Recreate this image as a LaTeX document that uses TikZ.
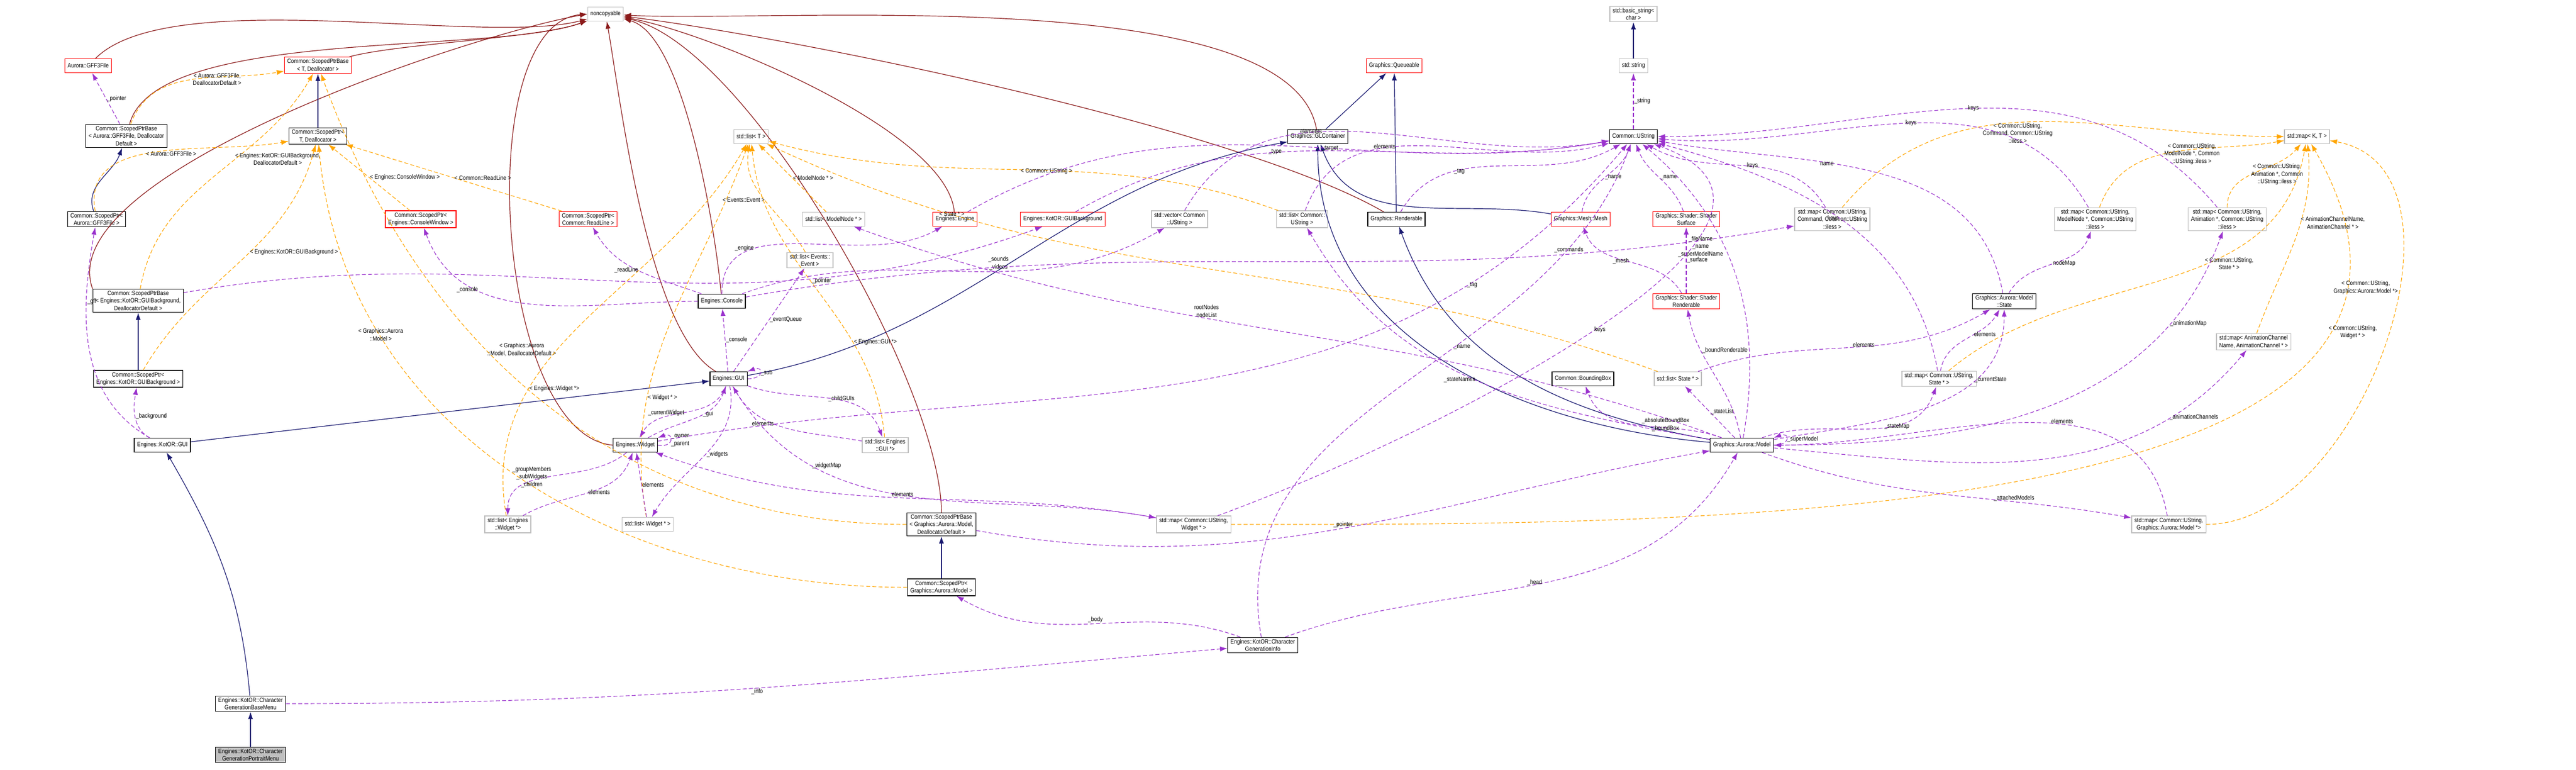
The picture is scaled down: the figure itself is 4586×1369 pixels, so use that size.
\documentclass[tikz,border=0pt]{standalone}
\usepackage{fontspec}
\setmainfont{Liberation Sans}[FakeStretch=0.86]
\usetikzlibrary{arrows.meta, positioning}
\definecolor{inhcol}{HTML}{191970}
\definecolor{usecol}{HTML}{9A32CD}
\definecolor{tplcol}{HTML}{FFA500}
\definecolor{nccol}{HTML}{8B1A1A}
\newcommand{\dgfont}{\fontsize{3.3}{4.05}\selectfont}
\tikzset{
>={Latex[length=3.9pt,width=2.7pt]}, % filled triangle heads
cls/.style={draw=black, fill=white, line width=0.39pt, align=center, font=\dgfont, inner xsep=1.5pt, inner ysep=0.9pt, minimum height=7.5pt},
undoc/.style={cls, draw=red},
ext/.style={cls, draw=black!25},
inh/.style={->, draw=inhcol, line width=0.36pt},
ncy/.style={->, draw=nccol, line width=0.36pt, looseness=0.55},
use/.style={->, draw=usecol, line width=0.33pt, dash pattern=on 2.1pt off 1.2pt},
tpl/.style={->, draw=tplcol, line width=0.33pt, dash pattern=on 2.1pt off 1.2pt},
lbl/.style={font=\dgfont, align=center, inner sep=0.3pt},
}
\begin{document}
\begin{tikzpicture}[x=0.3pt, y=-0.3pt]
  \useasboundingbox (0,0) rectangle (4586,1369);
  % classes
  \node[ext] (nc) at (1078,25) {noncopyable};
  \node[undoc] (gff) at (157,117) {Aurora::GFF3File};
  \node[undoc] (spbt) at (566,116) {Common::ScopedPtrBase\\ < T, Deallocator >};
  \node[cls] (spbgff) at (225,242) {Common::ScopedPtrBase\\ < Aurora::GFF3File, Deallocator\\ Default >};
  \node[cls] (sptd) at (566,242) {Common::ScopedPtr<\\ T, Deallocator >};
  \node[cls] (sptgff) at (172,390) {Common::ScopedPtr<\\ Aurora::GFF3File >};
  \node[undoc] (sptcw) at (749,390) {Common::ScopedPtr<\\ Engines::ConsoleWindow >};
  \node[undoc] (sptrl) at (1047,390) {Common::ScopedPtr<\\ Common::ReadLine >};
  \node[cls] (spbbg) at (246,535) {Common::ScopedPtrBase\\ < Engines::KotOR::GUIBackground,\\ DeallocatorDefault >};
  \node[cls] (sptbg) at (246,674) {Common::ScopedPtr<\\ Engines::KotOR::GUIBackground >};
  \node[cls] (kgui) at (289,792) {Engines::KotOR::GUI};
  \node[cls] (basemenu) at (446,1252) {Engines::KotOR::Character\\ GenerationBaseMenu};
  \node[cls, fill=black!25] (portrait) at (446,1343) {Engines::KotOR::Character\\ GenerationPortraitMenu};
  \node[cls] (widget) at (1131,792) {Engines::Widget};
  \node[ext] (lewid) at (904,933) {std::list< Engines\\ ::Widget *>};
  \node[ext] (lwid) at (1153,933) {std::list< Widget * >};
  \node[ext] (listt) at (1337,243) {std::list< T >};
  \node[ext] (lmn) at (1484,390) {std::list< ModelNode * >};
  \node[undoc] (engine) at (1700,390) {Engines::Engine};
  \node[undoc] (guibg) at (1892,390) {Engines::KotOR::GUIBackground};
  \node[ext] (vecus) at (2100,390) {std::vector< Common\\ ::UString >};
  \node[ext] (levent) at (1442,463) {std::list< Events::\\ Event >};
  \node[cls] (console) at (1285,536) {Engines::Console};
  \node[cls] (gui) at (1297,674) {Engines::GUI};
  \node[ext] (lgui) at (1576,792) {std::list< Engines\\ ::GUI *>};
  \node[cls] (spbmodel) at (1676,933) {Common::ScopedPtrBase\\ < Graphics::Aurora::Model,\\ DeallocatorDefault >};
  \node[cls] (sptmodel) at (1676,1045) {Common::ScopedPtr<\\ Graphics::Aurora::Model >};
  \node[ext] (mapwid) at (2125,933) {std::map< Common::UString,\\ Widget * >};
  \node[cls] (cginfo) at (2248,1148) {Engines::KotOR::Character\\ GenerationInfo};
  \node[ext] (bstr) at (2908,25) {std::basic\_string<\\ char >};
  \node[undoc] (queue) at (2482,117) {Graphics::Queueable};
  \node[ext] (stdstr) at (2908,117) {std::string};
  \node[cls] (glc) at (2346,243) {Graphics::GLContainer};
  \node[cls] (ustr) at (2908,243) {Common::UString};
  \node[ext] (lus) at (2318,390) {std::list< Common::\\ UString >};
  \node[cls] (rend) at (2486,390) {Graphics::Renderable};
  \node[undoc] (mesh) at (2814,390) {Graphics::Mesh::Mesh};
  \node[undoc] (shsurf) at (3002,390) {Graphics::Shader::Shader\\ Surface};
  \node[ext] (mapcmd) at (3262,390) {std::map< Common::UString,\\ Command, Common::UString\\ ::iless >};
  \node[undoc] (shrend) at (3002,536) {Graphics::Shader::Shader\\ Renderable};
  \node[cls] (bbox) at (2818,674) {Common::BoundingBox};
  \node[ext] (lstate) at (2987,674) {std::list< State * >};
  \node[ext] (mapstate) at (3452,674) {std::map< Common::UString,\\ State * >};
  \node[cls] (model) at (3101,792) {Graphics::Aurora::Model};
  \node[ext] (mapkt) at (4107,243) {std::map< K, T >};
  \node[ext] (mapmn) at (3730,390) {std::map< Common::UString,\\ ModelNode *, Common::UString\\ ::iless >};
  \node[ext] (mapanim) at (3965,390) {std::map< Common::UString,\\ Animation *, Common::UString\\ ::iless >};
  \node[cls] (state) at (3568,536) {Graphics::Aurora::Model\\ ::State};
  \node[ext] (mapchan) at (4012,608) {std::map< AnimationChannel\\ Name, AnimationChannel * >};
  \node[ext] (mapmodel) at (3861,933) {std::map< Common::UString,\\ Graphics::Aurora::Model *>};

  % noncopyable
  \draw[ncy] (gff) to[out=45,in=195] (nc);
  \draw[ncy] (spbt) to[out=15,in=200] (nc);
  \draw[ncy] (spbgff) to[out=75,in=200] (nc);
  \draw[ncy] (spbbg.north west) to[out=110,in=190] (nc.west);
  \draw[ncy] (widget.west) to[out=175,in=185,looseness=0.7] (nc.west);
  \draw[ncy] (console) to[out=95,in=-15] (nc);
  \draw[ncy] (gui) to[out=150,in=-80] (nc);
  \draw[ncy] (engine) to[out=95,in=-10] (nc);
  \draw[ncy] (spbmodel) to[out=90,in=-12] (nc);
  \draw[ncy] (glc) to[out=100,in=-3] (nc);
  \draw[ncy] (rend) to[out=150,in=-7] (nc);

  % inheritance
  \draw[inh] (sptd) -- (spbt);
  \draw[inh] (sptgff) to[out=110,in=-110] (spbgff);
  \draw[inh] (sptbg) -- (spbbg);
  \draw[inh] (kgui) -- (gui);
  \draw[inh] (basemenu) to[out=95,in=-60] (kgui);
  \draw[inh] (portrait) -- (basemenu);
  \draw[inh] (sptmodel) -- (spbmodel);
  \draw[inh] (glc) -- (queue);
  \draw[inh] (rend) -- (queue);
  \draw[inh] (gui) to[out=10,in=190] (glc);
  \draw[inh] (mesh) to[out=170,in=-70] (glc);
  \draw[inh] (model) to[out=170,in=-70] (rend);
  \draw[inh] (model) to[out=175,in=-90] (glc);
  \draw[inh] (stdstr) -- (bstr);

  % templates
  \draw[tpl] (spbgff) to[out=70,in=190] node[lbl, pos=0.5, right]{< Aurora::GFF3File,\\ DeallocatorDefault >} (spbt);
  \draw[tpl] (sptgff) to[out=100,in=190] node[lbl, pos=0.45, right]{< Aurora::GFF3File >} (sptd);
  \draw[tpl] (spbbg) to[out=80,in=-120] node[lbl, pos=0.6, right]{< Engines::KotOR::GUIBackground,\\ DeallocatorDefault >} (spbt);
  \draw[tpl] (sptbg) to[out=60,in=-105] node[lbl, pos=0.55, right]{< Engines::KotOR::GUIBackground >} (sptd);
  \draw[tpl] (sptcw) -- node[lbl, right]{< Engines::ConsoleWindow >} (sptd);
  \draw[tpl] (sptrl) -- node[lbl, right]{< Common::ReadLine >} (sptd);
  \draw[tpl] (spbmodel) to[out=180,in=-70] node[lbl, pos=0.6, right]{< Graphics::Aurora\\ ::Model, DeallocatorDefault >} (spbt);
  \draw[tpl] (sptmodel) to[out=180,in=-85] node[lbl, pos=0.75]{< Graphics::Aurora\\ ::Model >} (sptd);
  \draw[tpl] (lewid) to[out=100,in=-120] node[lbl, pos=0.3, right]{< Engines::Widget *>} (listt);
  \draw[tpl] (lwid) to[out=100,in=-110] node[lbl, pos=0.3, right]{< Widget * >} (listt);
  \draw[tpl] (levent) to[out=120,in=-100] node[lbl, pos=0.5, left]{< Events::Event >} (listt);
  \draw[tpl] (lmn) -- node[lbl, right]{< ModelNode * >} (listt);
  \draw[tpl] (lgui) to[out=95,in=-85] node[lbl, pos=0.3, right]{< Engines::GUI *>} (listt);
  \draw[tpl] (lus) to[out=160,in=-15] node[lbl, pos=0.4, left]{< Common::UString >} (listt);
  \draw[tpl] (lstate) to[out=160,in=-25] node[lbl, pos=0.8]{< State * >} (listt);
  \draw[tpl] (mapcmd) to[out=50,in=180] node[lbl, pos=0.45, below]{< Common::UString,\\ Command, Common::UString\\ ::iless >} (mapkt);
  \draw[tpl] (mapmn) to[out=70,in=190] node[lbl, pos=0.45, right]{< Common::UString,\\ ModelNode *, Common\\ ::UString::iless >} (mapkt);
  \draw[tpl] (mapanim) to[out=90,in=-130] node[lbl, pos=0.45, right]{< Common::UString,\\ Animation *, Common\\ ::UString::iless >} (mapkt);
  \draw[tpl] (mapstate) to[out=40,in=-100] node[lbl, pos=0.6, right]{< Common::UString,\\ State * >} (mapkt);
  \draw[tpl] (mapchan) to[out=70,in=-85] node[lbl, pos=0.6, right]{< AnimationChannelName,\\ AnimationChannel * >} (mapkt);
  \draw[tpl] (mapwid) to[out=0,in=-60] node[lbl, pos=0.8, right]{< Common::UString,\\ Widget * >} (mapkt);
  \draw[tpl] (mapmodel) to[out=0,in=-10] node[lbl, pos=0.6, left]{< Common::UString,\\ Graphics::Aurora::Model *>} (mapkt);

  % usage
  \draw[use] (spbgff) -- node[lbl, right]{\_pointer} (gff);
  \draw[use] (kgui) to[out=150,in=-100] node[lbl, pos=0.7, right]{\_gff} (sptgff);
  \draw[use] (kgui) to[out=150,in=-100] node[lbl, right]{\_background} (sptbg);
  \draw[use] (spbbg) to[out=10,in=-160] node[lbl, pos=0.75, below]{\_pointer} (guibg);
  \draw[use] (console) to[out=180,in=-70] node[lbl, pos=0.7, left]{\_console} (sptcw);
  \draw[use] (console) to[out=160,in=-60] node[lbl, pos=0.5, left]{\_readLine} (sptrl);
  \draw[use] (console) to[out=90,in=-150] node[lbl, pos=0.3, left]{\_engine} (engine);
  \draw[use] (console) to[out=20,in=-150] node[lbl, pos=0.6, above]{\_sounds\\ \_videos} (vecus);
  \draw[use] (console) to[out=10,in=-170] node[lbl, pos=0.8, above]{\_commands} (mapcmd);
  \draw[use] (gui) -- node[lbl, right]{\_console} (console);
  \draw[use] (gui) -- node[lbl, right]{\_eventQueue} (levent);
  \draw[use] (gui.east) to[out=0,in=20,looseness=6] node[lbl, right]{\_sub} (gui.north east);
  \draw[use] (gui) to[out=-20,in=110] node[lbl, pos=0.5, right]{\_childGUIs} (lgui);
  \draw[use] (lgui) to[out=170,in=-60] node[lbl, pos=0.6, left]{elements} (gui);
  \draw[use] (gui) to[out=-110,in=60] node[lbl, pos=0.5, left]{\_currentWidget} (widget);
  \draw[use] (widget) to[out=30,in=-110] node[lbl, pos=0.6, right]{\_gui} (gui);
  \draw[use] (widget.east) to[out=-10,in=20,looseness=6] node[lbl, right]{\_owner\\ \_parent} (widget.north east);
  \draw[use] (widget) to[out=-140,in=90] node[lbl, pos=0.5, left]{\_groupMembers\\ \_subWidgets\\ \_children} (lewid);
  \draw[use] (lewid) to[out=30,in=-110] node[lbl, pos=0.5, right]{elements} (widget);
  \draw[use] (lwid) -- node[lbl, right]{elements} (widget);
  \draw[use] (gui) to[out=-80,in=60] node[lbl, pos=0.5, right]{\_widgets} (lwid);
  \draw[use] (gui) to[out=-60,in=170] node[lbl, pos=0.25, right]{\_widgetMap} (mapwid);
  \draw[use] (mapwid) to[out=170,in=-20] node[lbl, pos=0.5, above]{elements} (widget);
  \draw[use] (mapwid) to[out=20,in=-20] node[lbl, pos=0.5, right]{keys} (ustr);
  \draw[use] (spbmodel) to[out=-10,in=190] node[lbl, pos=0.5, above]{\_pointer} (model);
  \draw[use] (cginfo) to[out=160,in=-30] node[lbl, pos=0.5, above]{\_body} (sptmodel);
  \draw[use] (cginfo) to[out=20,in=-120] node[lbl, pos=0.5, left]{\_head} (model);
  \draw[use] (basemenu) to[out=0,in=185] node[lbl, pos=0.5, below]{\_info} (cginfo);
  \draw[use] (cginfo) to[out=100,in=-110] node[lbl, pos=0.6, right]{\_name} (ustr);
  \draw[use] (engine) to[out=30,in=190] node[lbl, pos=0.6, left]{\_target} (ustr);
  \draw[use] (guibg) to[out=30,in=190] node[lbl, pos=0.4, left]{\_type} (ustr);
  \draw[use] (lus) to[out=70,in=195] node[lbl, pos=0.4, left]{elements} (ustr);
  \draw[use] (vecus) to[out=60,in=190] node[lbl, pos=0.4, left]{elements} (ustr);
  \draw[use] (rend) to[out=60,in=-150] node[lbl, pos=0.3, right]{\_tag} (ustr);
  \draw[use] (widget) to[out=10,in=-130] node[lbl, pos=0.8, right]{\_tag} (ustr);
  \draw[use] (mesh) to[out=80,in=-110] node[lbl, pos=0.5, right]{\_name} (ustr);
  \draw[use] (shsurf) to[out=110,in=-70] node[lbl, pos=0.5, right]{\_name} (ustr);
  \draw[use] (mapcmd) to[out=120,in=-30] node[lbl, pos=0.5, right]{keys} (ustr);
  \draw[use] (model) to[out=80,in=-40] node[lbl, pos=0.6, left]{\_fileName\\ \_name\\ \_superModelName} (ustr);
  \draw[use] (state) to[out=100,in=-10] node[lbl, pos=0.6, left]{name} (ustr);
  \draw[use] (mapmn) to[out=120,in=-5] node[lbl, pos=0.5, right]{keys} (ustr);
  \draw[use] (mapanim) to[out=130,in=0] node[lbl, pos=0.5, right]{keys} (ustr);
  \draw[use] (mapstate) to[out=100,in=-15] node[lbl, pos=0.5, left]{keys} (ustr);
  \draw[use] (ustr) -- node[lbl, right]{\_string} (stdstr);
  \draw[use] (model) to[out=160,in=-20] node[lbl, pos=0.6, above]{rootNodes\\ nodeList} (lmn);
  \draw[use] (shrend) to[out=120,in=-70] node[lbl, pos=0.5, left]{\_mesh} (mesh);
  \draw[use] (shrend) -- node[lbl, right]{\_surface} (shsurf);
  \draw[use] (model) to[out=100,in=-80] node[lbl, pos=0.7, right]{\_boundRenderable} (shrend);
  \draw[use] (model) to[out=170,in=-60] node[lbl, pos=0.5, left]{\_stateNames} (lus);
  \draw[use] (model) to[out=160,in=-70] node[lbl, pos=0.5, right]{\_absoluteBoundBox\\ \_boundBox} (bbox);
  \draw[use] (model) -- node[lbl, right]{\_stateList} (lstate);
  \draw[use] (model) to[out=20,in=-110] node[lbl, pos=0.6, right]{\_stateMap} (mapstate);
  \draw[use] (model) to[out=10,in=-90] node[lbl, pos=0.7, right]{\_currentState} (state);
  \draw[use] (lstate) to[out=20,in=-150] node[lbl, pos=0.6, left]{elements} (state);
  \draw[use] (mapstate) to[out=80,in=-120] node[lbl, pos=0.6, right]{elements} (state);
  \draw[use] (state) to[out=60,in=-110] node[lbl, pos=0.5, right]{nodeMap} (mapmn);
  \draw[use] (model) to[out=0,in=-110] node[lbl, pos=0.8, right]{\_animationMap} (mapanim);
  \draw[use] (model) to[out=-5,in=-130] node[lbl, pos=0.8, right]{\_animationChannels} (mapchan);
  \draw[use] (model) to[out=-20,in=170] node[lbl, pos=0.7, above]{\_attachedModels} (mapmodel);
  \draw[use] (mapmodel) to[out=100,in=0] node[lbl, pos=0.4, above]{elements} (model);
  \draw[use] (model.east) to[out=0,in=20,looseness=6] node[lbl, right]{\_superModel} (model.north east);
\end{tikzpicture}
\end{document}
